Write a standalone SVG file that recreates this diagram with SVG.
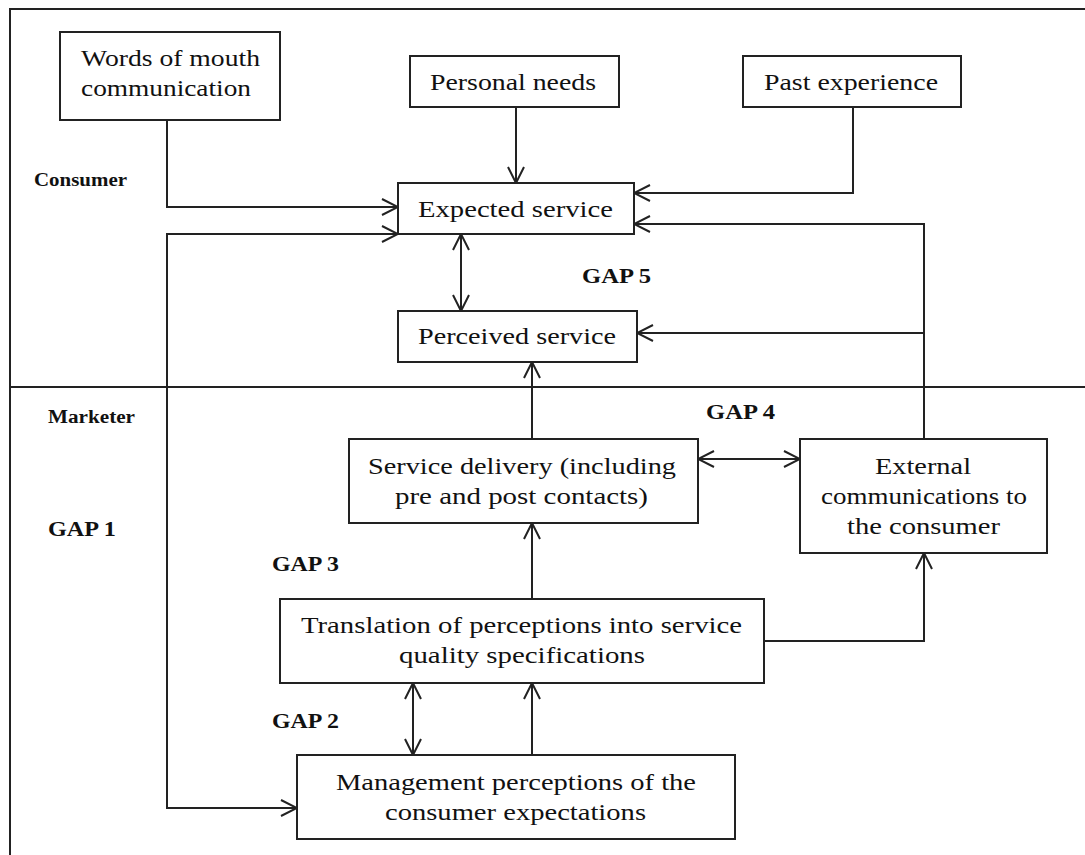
<svg xmlns="http://www.w3.org/2000/svg" width="1085" height="855" viewBox="0 0 1085 855">
<style>
.box{fill:#fff;stroke:#222;stroke-width:2}
.ln{fill:none;stroke:#222;stroke-width:2}
.t{font-family:"Liberation Serif","Times New Roman",serif;font-size:23px;fill:#111;text-anchor:start}
.lb{font-family:"Liberation Serif","Times New Roman",serif;font-weight:bold;fill:#111}
</style>
<defs>
<marker id="ah" viewBox="0 0 18 18" refX="17" refY="9" markerWidth="18" markerHeight="18" markerUnits="userSpaceOnUse" orient="auto-start-reverse">
<path d="M1,1 L17,9 L1,17" fill="none" stroke="#222" stroke-width="2"/>
</marker>
</defs>
<rect width="1085" height="855" fill="#fff"/>
<g id="frame">
<path class="ln" d="M10,855 L10,9 L1085,9"/>
<path class="ln" d="M10,387 L1085,387"/>
</g>
<g id="labels">
<text class="lb" x="34" y="186" font-size="18" textLength="93" lengthAdjust="spacingAndGlyphs">Consumer</text>
<text class="lb" x="48" y="423" font-size="18" textLength="87" lengthAdjust="spacingAndGlyphs">Marketer</text>
<text class="lb" x="582" y="283" font-size="22" textLength="69" lengthAdjust="spacingAndGlyphs">GAP 5</text>
<text class="lb" x="706" y="419" font-size="22" textLength="69" lengthAdjust="spacingAndGlyphs">GAP 4</text>
<text class="lb" x="48" y="536" font-size="22" textLength="68" lengthAdjust="spacingAndGlyphs">GAP 1</text>
<text class="lb" x="272" y="571" font-size="22" textLength="67" lengthAdjust="spacingAndGlyphs">GAP 3</text>
<text class="lb" x="272" y="728" font-size="22" textLength="67" lengthAdjust="spacingAndGlyphs">GAP 2</text>
</g>
<g id="connectors">
<path class="ln" d="M167,120 L167,207 L398,207" marker-end="url(#ah)"/>
<path class="ln" d="M516,107 L516,183" marker-end="url(#ah)"/>
<path class="ln" d="M853,107 L853,193 L634,193" marker-end="url(#ah)"/>
<path class="ln" d="M924,439 L924,224 L634,224" marker-end="url(#ah)"/>
<path class="ln" d="M924,333 L637,333" marker-end="url(#ah)"/>
<path class="ln" d="M398,234 L167,234 L167,808 L297,808" marker-start="url(#ah)" marker-end="url(#ah)"/>
<path class="ln" d="M461,234 L461,311" marker-start="url(#ah)" marker-end="url(#ah)"/>
<path class="ln" d="M532,439 L532,362" marker-end="url(#ah)"/>
<path class="ln" d="M698,459 L800,459" marker-start="url(#ah)" marker-end="url(#ah)"/>
<path class="ln" d="M532,599 L532,523" marker-end="url(#ah)"/>
<path class="ln" d="M764,641 L924,641 L924,553" marker-end="url(#ah)"/>
<path class="ln" d="M413,683 L413,755" marker-start="url(#ah)" marker-end="url(#ah)"/>
<path class="ln" d="M532,755 L532,683" marker-end="url(#ah)"/>
</g>
<g id="words">
<rect class="box" x="60" y="32" width="220" height="88"/>
<text class="t" x="81" y="66" textLength="179" lengthAdjust="spacingAndGlyphs">Words of mouth</text>
<text class="t" x="81" y="96" textLength="170" lengthAdjust="spacingAndGlyphs">communication</text>
</g>
<g id="personal">
<rect class="box" x="410" y="56" width="209" height="51"/>
<text class="t" x="430" y="90" textLength="166" lengthAdjust="spacingAndGlyphs">Personal needs</text>
</g>
<g id="past">
<rect class="box" x="743" y="56" width="218" height="51"/>
<text class="t" x="764" y="90" textLength="174" lengthAdjust="spacingAndGlyphs">Past experience</text>
</g>
<g id="expected">
<rect class="box" x="398" y="183" width="236" height="51"/>
<text class="t" x="418" y="217" textLength="195" lengthAdjust="spacingAndGlyphs">Expected service</text>
</g>
<g id="perceived">
<rect class="box" x="398" y="311" width="239" height="51"/>
<text class="t" x="418" y="344" textLength="198" lengthAdjust="spacingAndGlyphs">Perceived service</text>
</g>
<g id="delivery">
<rect class="box" x="349" y="439" width="349" height="84"/>
<text class="t" x="368" y="474" textLength="308" lengthAdjust="spacingAndGlyphs">Service delivery (including</text>
<text class="t" x="395" y="504" textLength="253" lengthAdjust="spacingAndGlyphs">pre and post contacts)</text>
</g>
<g id="external">
<rect class="box" x="800" y="439" width="247" height="114"/>
<text class="t" x="875" y="474" textLength="96" lengthAdjust="spacingAndGlyphs">External</text>
<text class="t" x="821" y="504" textLength="206" lengthAdjust="spacingAndGlyphs">communications to</text>
<text class="t" x="847" y="534" textLength="153" lengthAdjust="spacingAndGlyphs">the consumer</text>
</g>
<g id="translation">
<rect class="box" x="280" y="599" width="484" height="84"/>
<text class="t" x="301" y="633" textLength="441" lengthAdjust="spacingAndGlyphs">Translation of perceptions into service</text>
<text class="t" x="399" y="663" textLength="246" lengthAdjust="spacingAndGlyphs">quality specifications</text>
</g>
<g id="management">
<rect class="box" x="297" y="755" width="438" height="84"/>
<text class="t" x="336" y="790" textLength="360" lengthAdjust="spacingAndGlyphs">Management perceptions of the</text>
<text class="t" x="385" y="820" textLength="261" lengthAdjust="spacingAndGlyphs">consumer expectations</text>
</g>
</svg>
